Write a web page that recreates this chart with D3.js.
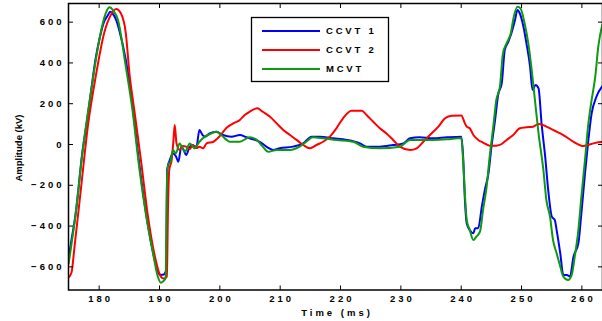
<!DOCTYPE html>
<html>
<head>
<meta charset="utf-8">
<script src="https://cdn.jsdelivr.net/npm/d3@7"></script>
<style>
  html, body { margin: 0; padding: 0; background: #fff; }
  svg { display: block; }
  text { font-family: "Liberation Sans", Arial, sans-serif; font-weight: bold; fill: #000; }
</style>
</head>
<body>
<svg id="chart" width="602" height="321"></svg>
<script>
// Secondary voltage (kV) against time (ms) for three voltage transformers
const seriesNames = ["CCVT 1", "CCVT 2", "MCVT"];
const seriesColors = ["#0000ff", "#ff0000", "#0e9a0e"];

const xTicks = [180, 190, 200, 210, 220, 230, 240, 250, 260];
const yTicks = [-600, -400, -200, 0, 200, 400, 600];

// [time ms, amplitude kV]
const ccvt1 = [
  [175, -560], [175.4, -487], [176.2, -339], [177.3, -40], [178.0, 100], [178.7, 250],
  [179.5, 420], [180.1, 510], [180.9, 600], [181.5, 630], [181.9, 648], [182.3, 640],
  [182.9, 608], [183.4, 559], [184.5, 412], [185.6, 190], [186.7, -90], [187.8, -330],
  [189.0, -530], [189.8, -626], [190.3, -642], [190.8, -640], [191.2, -618], [191.35, -127],
  [191.8, -78], [192.3, -46], [192.8, -60], [193.2, -87], [193.7, -13], [194.1, -30],
  [194.5, -54], [195.0, -20], [195.4, -5], [196.2, -13], [196.7, 69], [197.2, 45],
  [197.6, 36], [198.4, 52], [199.5, 60], [200.6, 44], [202.0, 36], [203.4, 44],
  [204.5, 33], [205.6, 23], [206.7, 11], [207.8, -13], [208.9, -29], [210.0, -21],
  [212.2, -13], [213.9, 3], [215.3, 36], [216.7, 36], [218.9, 28], [221.1, 20],
  [223.3, 3], [224.4, -13], [226.6, -13], [228.8, -5], [230.5, 3], [231.6, 28],
  [233.2, 33], [235.4, 28], [237.7, 33], [240.1, 36], [240.4, -60], [240.7, -275],
  [241.0, -389], [241.5, -422], [242.1, -438], [242.4, -413], [242.9, -413], [243.5, -307],
  [244.0, -225], [244.6, -144], [245.1, -13], [245.7, 118], [246.2, 240], [246.8, 297],
  [247.3, 461], [247.9, 502], [248.4, 543], [249.0, 608], [249.4, 657], [249.8, 640],
  [250.4, 575], [250.9, 493], [251.5, 379], [251.9, 265], [252.4, 289], [252.9, 273],
  [253.4, 101], [254.0, -62], [254.5, -225], [255.1, -356], [255.6, -373], [255.9, -422],
  [256.5, -536], [257.0, -642], [257.6, -642], [258.1, -650], [258.7, -552], [259.5, -487],
  [260.0, -340], [260.6, -144], [261.1, 3], [261.7, 150], [262.5, 232], [263.5, 285]
];

const ccvt2 = [
  [175, -655], [175.5, -630], [176.0, -503], [177.1, -209], [178.2, 85], [179.6, 346],
  [180.9, 543], [182.0, 632], [182.9, 662], [183.7, 640], [184.5, 543], [185.1, 346],
  [185.9, 167], [187.0, -78], [188.1, -340], [189.2, -535], [190.3, -650], [190.8, -660],
  [191.3, -650], [191.5, -300], [191.7, -127], [192.1, -78], [192.4, 20], [192.6, 93],
  [192.9, 3], [193.4, -29], [193.9, -10], [194.5, -13], [195.1, -25], [195.6, -5],
  [196.2, -20], [196.7, -13], [197.3, -21], [197.9, 3], [199.0, 11], [200.1, 40],
  [201.2, 80], [202.3, 101], [203.4, 118], [204.2, 142], [205.0, 158], [206.3, 175],
  [207.2, 158], [208.4, 134], [209.5, 101], [210.6, 69], [211.7, 44], [212.8, 20],
  [213.9, -5], [215.0, -21], [216.1, -5], [217.2, 11], [218.3, 36], [219.4, 77],
  [220.5, 126], [221.9, 163], [223.6, 163], [224.4, 142], [225.5, 109], [226.6, 77],
  [227.7, 52], [228.8, 20], [229.9, -13], [231.6, -29], [232.7, -21], [233.8, 11],
  [234.9, 44], [236.3, 85], [237.4, 126], [238.5, 139], [240.1, 140], [240.7, 101],
  [241.0, 85], [241.5, 77], [242.1, 44], [242.9, 20], [243.7, 7], [244.8, -8],
  [245.9, -8], [246.8, 0], [247.6, 20], [248.7, 44], [249.8, 77], [250.9, 82],
  [252.0, 85], [252.6, 95], [253.1, 98], [254.2, 85], [255.6, 65], [257.0, 44],
  [258.7, 11], [260.3, -10], [262.0, 3], [263.5, 11]
];

const mcvt = [
  [175, -590], [176.2, -339], [177.3, -45], [178.7, 250], [180.1, 510], [180.9, 616],
  [181.3, 650], [181.8, 670], [182.4, 655], [183.2, 608], [184.5, 379], [185.6, 167],
  [186.7, -111], [187.8, -339], [189.0, -535], [189.8, -650], [190.3, -680], [190.8, -670],
  [191.1, -657], [191.3, -200], [191.5, -95], [191.8, -95], [192.3, -29], [192.8, -46],
  [193.4, 3], [194.3, -38], [195.1, 3], [195.9, -21], [196.7, 11], [197.6, 36],
  [198.7, 52], [199.5, 60], [200.3, 44], [201.2, 20], [201.7, 11], [203.4, 11],
  [205.0, 33], [206.2, 20], [207.2, -13], [208.1, -38], [209.5, -29], [211.7, -29],
  [213.3, -13], [214.4, 11], [215.5, 33], [217.2, 28], [219.4, 20], [222.2, 11],
  [223.8, -13], [226.6, -21], [229.9, -13], [231.6, 20], [233.2, 20], [235.4, 20],
  [237.7, 23], [240.1, 30], [240.4, -80], [240.7, -250], [241.0, -373], [241.5, -422],
  [242.1, -471], [242.6, -454], [243.2, -430], [243.7, -324], [244.3, -209], [244.8, -62],
  [245.4, 85], [245.9, 216], [246.5, 281], [247.0, 444], [247.6, 493], [248.3, 543],
  [248.8, 624], [249.4, 673], [249.9, 665], [250.6, 591], [251.2, 493], [251.7, 380],
  [252.3, 216], [252.9, 52], [253.7, -127], [254.2, -275], [254.8, -356], [255.3, -471],
  [255.9, -536], [256.5, -601], [257.0, -650], [257.8, -667], [258.4, -642], [258.9, -552],
  [259.5, -422], [260.0, -258], [260.6, -78], [261.1, 85], [261.7, 216], [262.3, 330],
  [262.8, 477], [263.5, 590]
];

const allSeries = [ccvt1, ccvt2, mcvt];

const svg = d3.select("#chart");
const plot = { left: 68.5, right: 602.5, top: 3.5, bottom: 290 };

const x = d3.scaleLinear().domain([175, 263.5]).range([plot.left, plot.right]);
const y = d3.scaleLinear().domain([-716, 689]).range([plot.bottom, plot.top]);

svg.append("defs").append("clipPath").attr("id", "plotClip")
  .append("rect")
  .attr("x", plot.left).attr("y", plot.top)
  .attr("width", plot.right - plot.left).attr("height", plot.bottom - plot.top);

// curves
const line = d3.line()
  .x(d => x(d[0]))
  .y(d => y(d[1]))
  .curve(d3.curveMonotoneX);

svg.append("g").attr("clip-path", "url(#plotClip)")
  .selectAll("path")
  .data(allSeries)
  .join("path")
  .attr("d", line)
  .attr("fill", "none")
  .attr("stroke", (d, i) => seriesColors[i])
  .attr("stroke-width", 2)
  .attr("stroke-linejoin", "round");

// axes with inward ticks on all four sides
const tickFont = g => g.selectAll("text")
  .attr("font-size", "9.5px")
  .attr("letter-spacing", "3px")
  .attr("fill", "#000");

const styleAxis = g => {
  g.select(".domain").remove();
  g.selectAll(".tick line").attr("stroke", "#000").attr("stroke-width", 1);
};

svg.append("g")
  .attr("transform", `translate(0,${plot.bottom})`)
  .call(d3.axisBottom(x).tickValues(xTicks).tickSize(-4.5).tickPadding(5).tickFormat(d3.format("d")))
  .call(styleAxis)
  .call(tickFont)
  .call(g => g.selectAll("text").attr("dx", "1.5px"));

svg.append("g")
  .attr("transform", `translate(0,${plot.top})`)
  .call(d3.axisTop(x).tickValues(xTicks).tickSize(-4.5).tickFormat(""))
  .call(styleAxis);

svg.append("g")
  .attr("transform", `translate(${plot.left},0)`)
  .call(d3.axisLeft(y).tickValues(yTicks).tickSize(-4.5).tickPadding(4).tickFormat(d3.format("d")))
  .call(styleAxis)
  .call(tickFont);

svg.append("g")
  .attr("transform", `translate(${plot.right},0)`)
  .call(d3.axisRight(y).tickValues(yTicks).tickSize(-4.5).tickFormat(""))
  .call(styleAxis);

// frame
svg.append("rect")
  .attr("x", plot.left).attr("y", plot.top)
  .attr("width", plot.right - plot.left).attr("height", plot.bottom - plot.top)
  .attr("fill", "none").attr("stroke", "#000").attr("stroke-width", 1.5);

// axis titles
svg.append("text")
  .attr("x", 337).attr("y", 316)
  .attr("text-anchor", "middle")
  .attr("font-size", "9.5px")
  .attr("letter-spacing", "3px")
  .text("Time (ms)");

svg.append("text")
  .attr("transform", "translate(21.5,148) rotate(-90)")
  .attr("text-anchor", "middle")
  .attr("font-size", "9.5px")
  .text("Amplitude (kV)");

// legend
const legend = svg.append("g");
legend.append("rect")
  .attr("x", 251.5).attr("y", 17.5).attr("width", 137).attr("height", 64)
  .attr("fill", "#fff").attr("stroke", "#000").attr("stroke-width", 1.3);

const legendRows = legend.selectAll("g.row")
  .data(seriesNames)
  .join("g")
  .attr("class", "row")
  .attr("transform", (d, i) => `translate(0,${31 + i * 19})`);

legendRows.append("line")
  .attr("x1", 262).attr("x2", 320)
  .attr("stroke", (d, i) => seriesColors[i])
  .attr("stroke-width", 2);

legendRows.append("text")
  .attr("x", 326).attr("y", 3.4)
  .attr("font-size", "9.5px")
  .attr("letter-spacing", "2.8px")
  .text(d => d);
</script>
</body>
</html>
